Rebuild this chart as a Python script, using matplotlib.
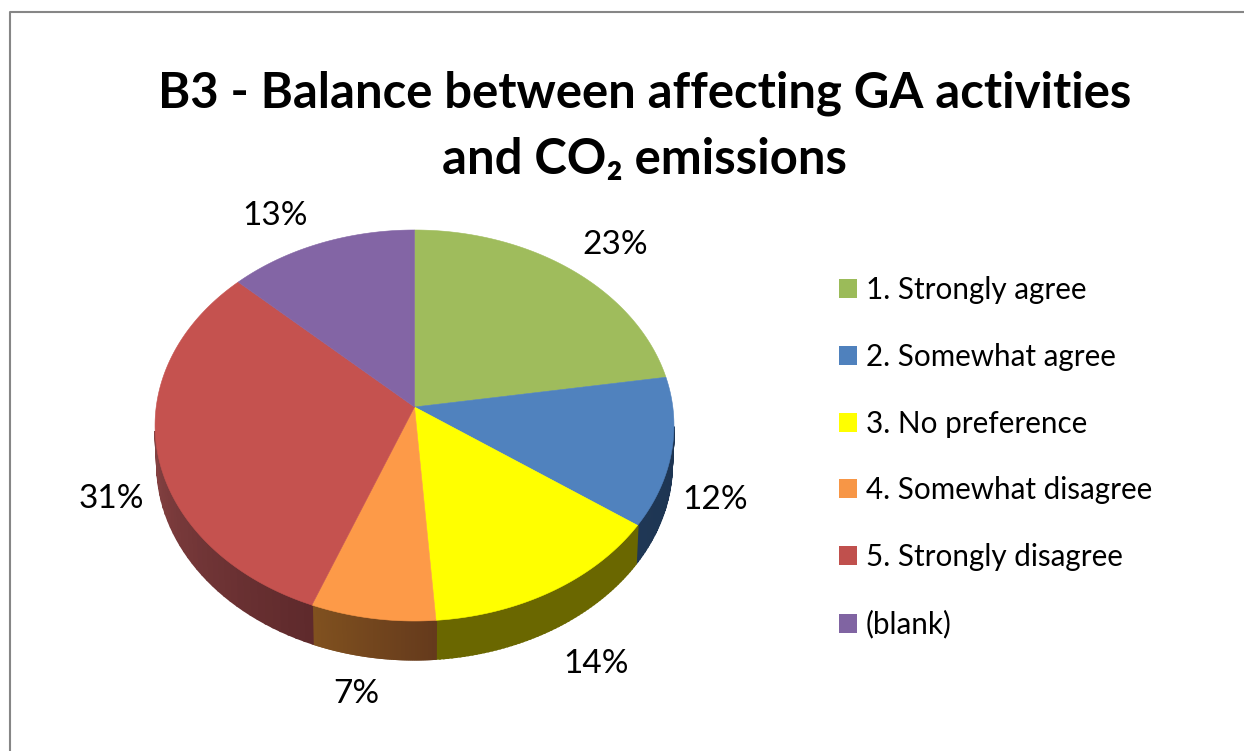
import numpy as np
import matplotlib
matplotlib.use('Agg')
import matplotlib.pyplot as plt
from matplotlib.patches import Patch

plt.rcParams['font.family'] = ['Lato', 'Open Sans', 'DejaVu Sans']

categories = ['1. Strongly agree', '2. Somewhat agree', '3. No preference',
              '4. Somewhat disagree', '5. Strongly disagree', '(blank)']
values = [22.51, 12.29, 14.0, 7.1, 31.15, 12.95]

colors = ['#9BBB59', '#4F81BD', '#FFFF00', '#F79646', '#C0504D', '#8064A2']
top_colors = ['#9FBC5C', '#5082BE', '#FFFF00', '#FD9A48', '#C5524F', '#8365A5']
# wall colour at the start / end of each slice, clockwise from the top
wall_colors = [('#5d7035', '#5d7035'), ('#1c3350', '#1f3755'), ('#6A6700', '#6A6700'),
               ('#653A1C', '#80511F'), ('#5F2A2C', '#A35453'), ('#4d3c61', '#4d3c61')]
# label offset from the rim at the middle of the slice, in pixels
label_offsets = [(44, -25), (44, 48), (43, 73), (-16, 76), (-46, 49), (-45, -27)]

# pie geometry in pixels
cx, cy = 414.5, 425.5
a, b, c, k = 258.3, 195.5, 18.5, 0.0946
depth = 38.5


def project(theta):
    # theta clockwise from the top, circle seen in perspective
    x, y = np.sin(theta), np.cos(theta)
    d = 1 + k * y
    return cx + a * x / d, cy - (b * y + c) / d


def mix(c1, c2, t):
    return tuple((1 - t) * np.array(matplotlib.colors.to_rgb(c1))
                 + t * np.array(matplotlib.colors.to_rgb(c2)))


fig = plt.figure(figsize=(12.44, 7.51), dpi=100)
ax = fig.add_axes([0, 0, 1, 1])
ax.set_xlim(0, 1244)
ax.set_ylim(751, 0)
ax.axis('off')

ax.plot([9.5, 9.5, 1244], [751, 11.5, 11.5], color='#868686', lw=1.5)

edges = 2 * np.pi * np.cumsum([0] + values) / np.sum(values)

# side wall first, the top covers what should not show
for i in range(len(values)):
    th = np.linspace(edges[i], edges[i + 1], 61)
    for j in range(len(th) - 1):
        if np.cos(th[j]) > -0.1 or np.cos(th[j + 1]) > -0.1:
            continue
        seg = th[j:j + 2]
        xs, ys = project(seg)
        xb = cx + (xs - cx) * 0.992
        col = mix(*wall_colors[i], j / 59)
        ax.fill(np.r_[xs, xb[::-1]], np.r_[ys, ys[::-1] + depth], color=col,
                lw=1.5, zorder=2)

for i in range(len(values)):
    th = np.linspace(edges[i], edges[i + 1], 200)
    xs, ys = project(th)
    ax.fill(np.r_[cx, xs], np.r_[cy - c, ys], color=top_colors[i], lw=0.4, zorder=3)

    mid = (edges[i] + edges[i + 1]) / 2
    mx, my = project(mid)
    ax.text(mx + label_offsets[i][0], my + label_offsets[i][1], f'{values[i]:.0f}%',
            ha='center', va='center', fontsize=24, color='black', zorder=4)

ax.text(644.5, 93, 'B3 - Balance between affecting GA activities', ha='center', va='center',
        fontsize=35.3, fontweight='bold')
ax.text(644.5, 159, 'and CO\u2082 emissions', ha='center', va='center',
        fontsize=35.3, fontweight='bold')

handles = [Patch(facecolor=col, edgecolor='none', label=lab)
           for col, lab in zip(colors, categories)]
ax.legend(handles=handles, loc='upper left', bbox_to_anchor=(839 / 1244, 1 - 276 / 751),
          frameon=False, fontsize=21.3, handlelength=0.61, handleheight=0.61,
          handletextpad=0.3, labelspacing=1.31, borderpad=0, borderaxespad=0)

fig.savefig('out.png', dpi=100)
